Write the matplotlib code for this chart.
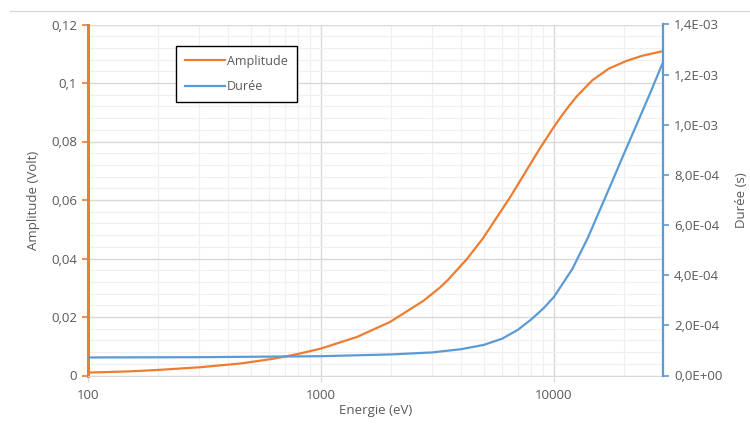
import numpy as np
import matplotlib.pyplot as plt
from matplotlib.ticker import FixedLocator, FuncFormatter, NullFormatter
from matplotlib.lines import Line2D

plt.rcParams['font.family'] = ['Open Sans', 'DejaVu Sans']

# Energie (eV) et amplitude (V)
energie_amp = [100, 150, 200, 300, 450, 500, 620, 736, 800, 1000, 1430, 1980, 2750, 3245,
               3500, 4220, 4950, 6470, 7360, 8700, 10000, 10600, 11700, 12560, 14650,
               17200, 20400, 23900, 29400]
amplitude = [0.0010, 0.0014, 0.0019, 0.0028, 0.0041, 0.0046, 0.0057, 0.0068, 0.0074, 0.0092,
             0.0132, 0.0183, 0.0255, 0.0301, 0.0326, 0.0397, 0.0468, 0.0608, 0.0681, 0.0776,
             0.0850, 0.0879, 0.0925, 0.0955, 0.1010, 0.1049, 0.1075, 0.1093, 0.1109]

# Energie (eV) et durée (s)
energie_dur = [100, 300, 1000, 2000, 3000, 4000, 5000, 6000, 7000, 8000, 9000, 10000,
               12000, 14000, 16000, 18000, 20000, 23000, 26000, 29400]
duree = [7.2e-5, 7.3e-5, 7.7e-5, 8.4e-5, 9.2e-5, 1.05e-4, 1.22e-4, 1.47e-4, 1.82e-4, 2.24e-4,
         2.67e-4, 3.13e-4, 4.25e-4, 5.5e-4, 6.75e-4, 7.85e-4, 8.85e-4, 1.015e-3, 1.13e-3, 1.25e-3]

amp_ticks = [0, 0.02, 0.04, 0.06, 0.08, 0.1, 0.12]
dur_ticks = [0, 2e-4, 4e-4, 6e-4, 8e-4, 1e-3, 1.2e-3, 1.4e-3]
x_ticks = [100, 1000, 10000]

orange = '#ED7D31'
blue = '#5B9BD5'
txt = '#595959'

fig = plt.figure(figsize=(7.5, 4.24), dpi=100)
ax = fig.add_axes([88 / 750, 1 - 375.5 / 424, 575 / 750, 351 / 424])
ax2 = ax.twinx()

ax.set_xscale('log')
ax.set_xlim(100, 29400)
ax.set_ylim(0, 0.12)
ax2.set_ylim(0, 1.4e-3)

l1, = ax.plot(energie_amp, amplitude, color=orange, lw=1.6, label='Amplitude')
l2, = ax2.plot(energie_dur, duree, color=blue, lw=1.6, label='Durée')

# grille
minor_x = [m * 10 ** d for d in (2, 3, 4) for m in range(2, 10) if m * 10 ** d < 29400]
ax.xaxis.set_major_locator(FixedLocator(x_ticks))
ax.xaxis.set_minor_locator(FixedLocator(minor_x))
ax.xaxis.set_minor_formatter(NullFormatter())
ax.set_xticklabels([str(v) for v in x_ticks])
ax.yaxis.set_major_locator(FixedLocator(amp_ticks))
ax.yaxis.set_minor_locator(FixedLocator(np.arange(0, 0.1201, 0.004)))
ax.grid(which='major', color='#d9d9d9', lw=1.0)
ax.grid(which='minor', color='#f0f0f0', lw=0.9)
ax.set_axisbelow(True)

ax.yaxis.set_major_formatter(FuncFormatter(lambda v, p: ('%g' % round(v, 3)).replace('.', ',')))


def sci_fmt(v, p):
    s = '%.1E' % v
    return s.replace('.', ',')


ax2.yaxis.set_major_locator(FixedLocator(dur_ticks))
ax2.yaxis.set_major_formatter(FuncFormatter(sci_fmt))

ax.spines['top'].set_visible(False)
ax2.spines['top'].set_visible(False)
ax.spines['left'].set_color(orange)
ax.spines['left'].set_linewidth(2.2)
ax.spines['right'].set_visible(False)
ax2.spines['left'].set_visible(False)
ax2.spines['bottom'].set_visible(False)
ax2.spines['right'].set_color(blue)
ax2.spines['right'].set_linewidth(1.6)
ax.spines['bottom'].set_color('#d9d9d9')

ax.tick_params(axis='y', which='major', colors=orange, labelcolor=txt, length=4, width=1.2, labelsize=9.5, pad=4)
ax.tick_params(axis='y', which='minor', length=0)
ax.tick_params(axis='x', which='major', color='#d9d9d9', labelcolor=txt, length=4, labelsize=9.5, pad=6)
ax.tick_params(axis='x', which='minor', length=0)
ax2.tick_params(axis='y', colors=blue, labelcolor=txt, length=4, width=1.2, labelsize=9.5, pad=4)

ax.set_xlabel('Energie (eV)', color=txt, fontsize=9.5, labelpad=1)
ax.set_ylabel('Amplitude (Volt)', color=txt, fontsize=9.5, labelpad=8)
ax2.set_ylabel('Durée (s)', color=txt, fontsize=9.5, labelpad=9)

leg = ax.legend(handles=[l1, l2], loc='upper left', bbox_to_anchor=(0.153, 0.939),
                borderaxespad=0, fancybox=False, framealpha=1, edgecolor='black',
                fontsize=9, labelspacing=1.0, handlelength=3.2, handletextpad=0.2,
                borderpad=0.7)
leg.get_frame().set_linewidth(1.0)
for t in leg.get_texts():
    t.set_color(txt)

fig.add_artist(Line2D([10 / 750, 1], [1 - 11 / 424, 1 - 11 / 424], color='#d9d9d9', lw=1.0))

fig.savefig('out.png', dpi=100)
